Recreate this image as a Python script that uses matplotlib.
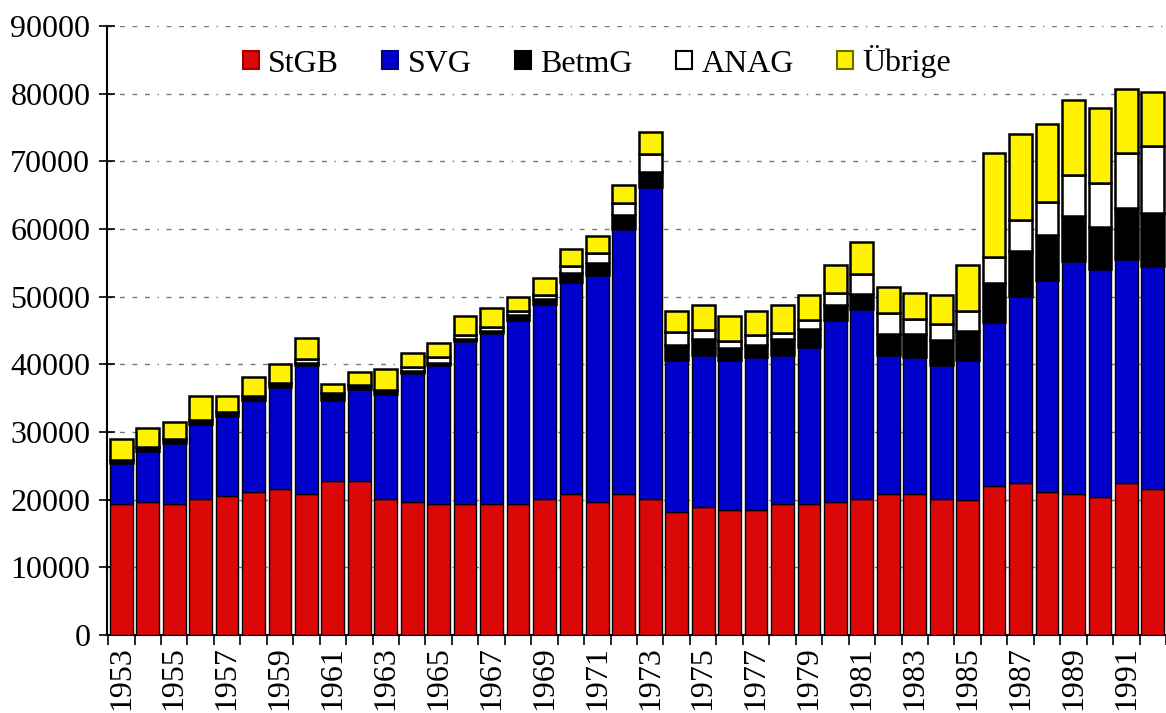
import matplotlib
matplotlib.use("Agg")
import matplotlib.pyplot as plt
from matplotlib.patches import Patch
import numpy as np

years = list(range(1953, 1993))

stgb = [19300, 19600, 19300, 20050, 20500, 21200, 21600, 20850, 22800, 22800,
        20050, 19700, 19300, 19300, 19300, 19300, 20100, 20850, 19700, 20850,
        20100, 18150, 18850, 18450, 18450, 19300, 19300, 19700, 20050, 20850,
        20850, 20050, 19950, 22000, 22400, 21200, 20850, 20450, 22400, 21600]
svg = [6070, 7580, 9110, 11130, 11860, 13530, 15070, 19050, 11930, 13510,
       15520, 18970, 20600, 24190, 25370, 27250, 28810, 31250, 33500, 39100,
       46150, 22450, 22530, 22190, 22580, 22080, 23300, 26850, 28080, 20530,
       20180, 19850, 20700, 24230, 27680, 31280, 34390, 33570, 33230, 32880]
betmg = [490, 550, 590, 590, 590, 590, 590, 300, 990, 590,
         630, 300, 300, 210, 230, 740, 700, 1350, 1820, 2120,
         2220, 2230, 2320, 1720, 1820, 2320, 2650, 2220, 2260, 3100,
         3450, 3700, 4300, 5840, 6600, 6650, 6640, 6330, 7450, 7830]
anag = [0, 0, 0, 0, 0, 0, 0, 540, 0, 0,
        0, 590, 930, 590, 660, 590, 630, 1080, 1480, 1810,
        2570, 1970, 1370, 1130, 1480, 970, 1300, 1820, 2960, 3060,
        2170, 2310, 2980, 3730, 4670, 4910, 6070, 6410, 8090, 9990]
uebrige = [3100, 2800, 2420, 3550, 2370, 2850, 2770, 3150, 1330, 2010,
           3060, 2160, 2070, 2850, 2810, 2110, 2460, 2510, 2460, 2620,
           3250, 3130, 3700, 3650, 3600, 4100, 3690, 4090, 4800, 3930,
           3940, 4330, 6810, 15450, 12670, 11490, 11080, 11080, 9490, 7930]

series_names = ["StGB", "SVG", "BetmG", "ANAG", "Übrige"]
colors = ["#DC0808", "#0000CC", "#000000", "#FFFFFF", "#FFF200"]
legend_edges = ["#A00000", "#000080", "#000000", "#000000", "#6B6B00"]
ytick_vals = list(range(0, 90001, 10000))

plt.rcParams['font.family'] = ['Liberation Serif', 'DejaVu Serif']

W, H = 1166, 713
FS = 23
fig = plt.figure(figsize=(W / 100, H / 100), dpi=100)
ax = fig.add_axes([107 / W, 1 - 635 / H, 1 - 107 / W, (635 - 26) / H])

x = np.array(years, dtype=float)
data = [stgb, svg, betmg, anag, uebrige]
bottom = np.zeros(len(years))
lws = [1.0, 1.0, 1.8, 1.8, 1.8]
for vals, c, lw in zip(data, colors, lws):
    v = np.array(vals, dtype=float)
    ax.bar(x, v, bottom=bottom, width=0.86, color=c, edgecolor="black",
           linewidth=lw, zorder=3)
    bottom += v

ax.set_ylim(0, 90000)
ax.set_xlim(1952.46, 1992.19)
ax.set_yticks(ytick_vals)
ax.set_yticklabels([str(v) for v in ytick_vals], fontsize=FS)
ax.yaxis.grid(True, color="#777777", linewidth=1.0,
              linestyle=(0, (3.5, 5.5, 3.5, 5.5, 3.5, 5.5, 3.5, 5.5, 1, 5.5)),
              zorder=0)
ax.set_axisbelow(True)

ax.set_xticks(x[::2])
ax.set_xticklabels([str(y) for y in years[::2]], rotation=90, fontsize=FS,
                   va="top")
ax.set_xticks(np.arange(1952.5, 1993, 1.0), minor=True)
ax.tick_params(axis="x", which="major", length=0, pad=8)
ax.tick_params(axis="x", which="minor", direction="out", length=7, width=1.2)
ax.tick_params(axis="y", direction="inout", length=12, width=1.2, pad=6)

for s in ["top", "right"]:
    ax.spines[s].set_visible(False)
ax.spines["left"].set_linewidth(1.5)
ax.spines["bottom"].set_linewidth(1.5)

handles = [Patch(facecolor=c, edgecolor=e, linewidth=1.5) for c, e in zip(colors, legend_edges)]
leg = ax.legend(handles, series_names, ncol=5, loc="center",
                bbox_to_anchor=((597 - 107) / (W - 107), (635 - 62) / 609),
                frameon=False, fontsize=FS, handlelength=0.5,
                handleheight=0.5, handletextpad=0.3, columnspacing=1.35,
                borderaxespad=0)

fig.savefig("out.png", dpi=100)
